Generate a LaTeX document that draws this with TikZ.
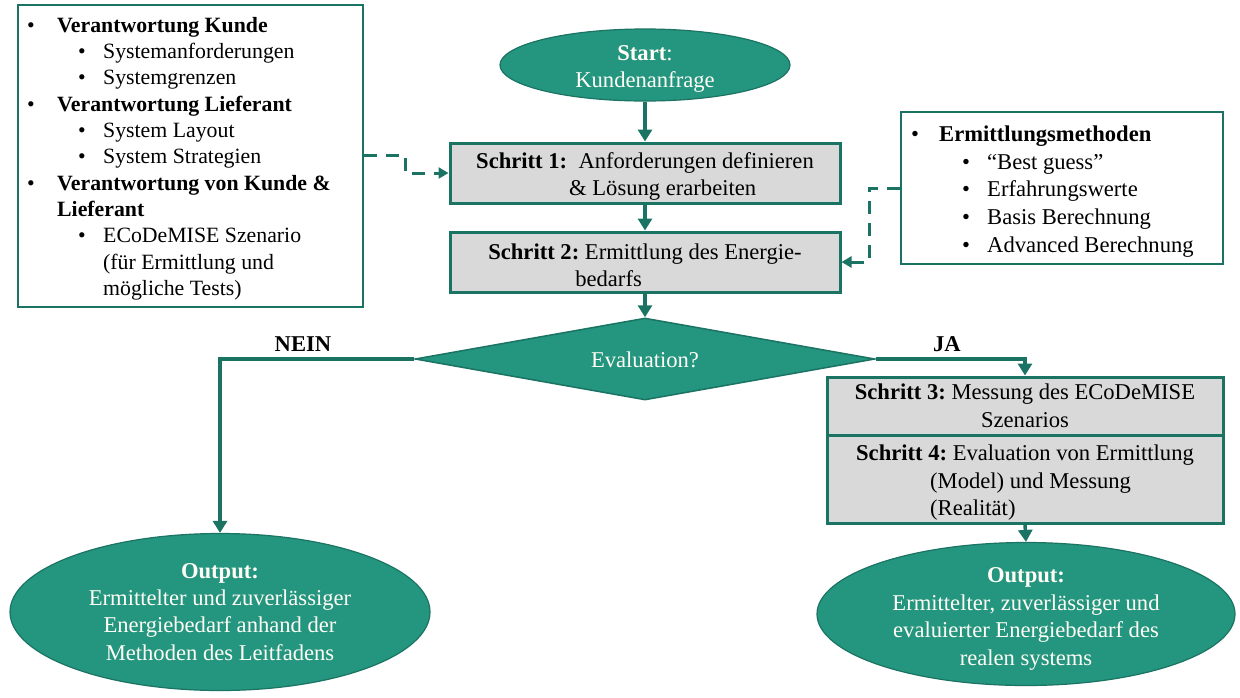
\documentclass[tikz,border=0pt]{standalone}
\usepackage{fontspec}
\setmainfont{Liberation Serif}
\usetikzlibrary{shapes.geometric,arrows.meta}
\definecolor{tealfill}{HTML}{24967F}
\definecolor{tealdark}{HTML}{1B7363}
\definecolor{boxgray}{HTML}{D9D9D9}
\definecolor{cream}{HTML}{FFFDF5}
\newcommand\bu[1]{\makebox[#1][l]{\textbullet}}
\newcommand\lift[1]{\rule{0pt}{#1}}
\begin{document}
\begin{tikzpicture}[x=1pt,y=-1pt,
  infobox/.style={draw=tealdark,line width=2.6pt,fill=white,inner sep=0pt},
  stepbox/.style={draw=tealdark,line width=3pt,fill=boxgray,inner sep=0pt,
    font=\fontsize{22.6}{27.5}\selectfont},
  termin/.style={ellipse,draw=tealdark,line width=1.2pt,fill=tealfill,inner sep=0pt},
  termtext/.style={inner sep=0pt,text=cream,align=center,font=\fontsize{22.6}{27.2}\selectfont},
  decision/.style={diamond,aspect=5.6,draw=tealdark,line width=1.5pt,fill=tealfill,inner sep=0pt,
    text=cream,font=\fontsize{22.6}{27}\selectfont},
  flow/.style={draw=tealdark,line width=3.5pt,-{Triangle[width=14pt,length=12pt]}},
  dashflow/.style={draw=tealdark,line width=3pt,dash pattern=on 13pt off 9pt,
    -{Triangle[width=11pt,length=10pt]}},
  lab/.style={font=\fontsize{22.6}{27}\selectfont\bfseries,inner sep=0pt}
]
\useasboundingbox (0,0) rectangle (1240,697);
\fill[white] (0,0) rectangle (1240,697);

% left info box
\node[infobox,minimum width=345pt,minimum height=302pt] (lbox) at (190.5,156) {};
\node[anchor=north west,inner sep=0pt,align=left,font=\fontsize{21.8}{26.3}\selectfont] (ltext) at (27,17)
{\bu{30pt}\textbf{Verantwortung Kunde}\\
 \hspace*{51pt}\bu{25pt}Systemanforderungen\\
 \hspace*{51pt}\bu{25pt}Systemgrenzen\\
 \bu{30pt}\textbf{Verantwortung Lieferant}\\
 \hspace*{51pt}\bu{25pt}System Layout\\
 \hspace*{51pt}\bu{25pt}System Strategien\\
 \bu{30pt}\textbf{Verantwortung von Kunde \&}\\
 \hspace*{30pt}\textbf{Lieferant}\\
 \hspace*{51pt}\bu{25pt}ECoDeMISE Szenario\\
 \hspace*{76pt}(für Ermittlung und\\
 \hspace*{76pt}mögliche Tests)};

% right info box
\node[infobox,minimum width=322pt,minimum height=152pt] (rbox) at (1062,188) {};
\node[anchor=north west,inner sep=0pt,align=left,font=\fontsize{22.6}{27.7}\selectfont] (rtext) at (911,125.5)
{\bu{28pt}\textbf{Ermittlungsmethoden}\\
 \hspace*{51pt}\bu{25pt}“Best guess”\\
 \hspace*{51pt}\bu{25pt}Erfahrungswerte\\
 \hspace*{51pt}\bu{25pt}Basis Berechnung\\
 \hspace*{51pt}\bu{25pt}Advanced Berechnung};

% start
\node[termin,minimum width=290pt,minimum height=72pt] (start) at (645,65) {};
\node[termtext] (starttext) at (645,69) {\textbf{Start}:\\Kundenanfrage};

% steps
\node[stepbox,minimum width=390pt,minimum height=60pt,align=left] (s1) at (645,173)
{\lift{22.5pt}\textbf{Schritt 1:}\ \ Anforderungen definieren\\\hspace*{93pt}\& Lösung erarbeiten};
\node[stepbox,minimum width=390pt,minimum height=60pt,align=left] (s2) at (645,262)
{\lift{22.5pt}\textbf{Schritt 2:}~Ermittlung des Energie-\\\hspace*{87pt}bedarfs};

% decision
\node[decision,minimum width=460pt,minimum height=82pt] (dec) at (645,359) {\lift{18pt}Evaluation?};

% steps 3 and 4
\node[stepbox,minimum width=396pt,minimum height=58pt,align=center] (s3) at (1025,406)
{\textbf{Schritt 3:}~Messung des ECoDeMISE\\Szenarios};
\node[stepbox,minimum width=396pt,minimum height=88pt,align=left] (s4) at (1025,479)
{\lift{23.5pt}\textbf{Schritt 4:}~Evaluation von Ermittlung\\\hspace*{74pt}(Model) und Messung\\\hspace*{74pt}(Realität)};

% outputs
\node[termin,minimum width=420pt,minimum height=157pt] (lout) at (220,612) {};
\node[termtext] (louttext) at (220,612)
{\textbf{Output:}\\Ermittelter und zuverlässiger\\Energiebedarf anhand der\\Methoden des Leitfadens};
\node[termin,minimum width=418pt,minimum height=143pt] (rout) at (1026,614) {};
\node[termtext,font=\fontsize{22.6}{27.5}\selectfont] (routtext) at (1026,619)
{\textbf{Output:}\\Ermittelter, zuverlässiger und\\evaluierter Energiebedarf des\\realen systems};

% connectors
\draw[flow] (start.south) -- (s1.north);
\draw[flow] (s1.south) -- (s2.north);
\draw[flow] (s2.south) -- (dec.north);
\draw[flow] (dec.west) -| (lout.north);
\draw[flow] (dec.east) -| (s3.north);
\draw[flow] (s4.south) -- (rout.north);

\coordinate (c1) at (405,155);
\coordinate (c2) at (869,188);
\draw[dashflow] (lbox.east |- c1) -- (c1) |- (s1.west);
\draw[dashflow] (rbox.west |- c2) -- (c2) |- (s2.east);

% labels
\node[lab] (nein) at (303,344) {NEIN};
\node[lab] (ja) at (947,344) {JA};
\end{tikzpicture}
\end{document}
